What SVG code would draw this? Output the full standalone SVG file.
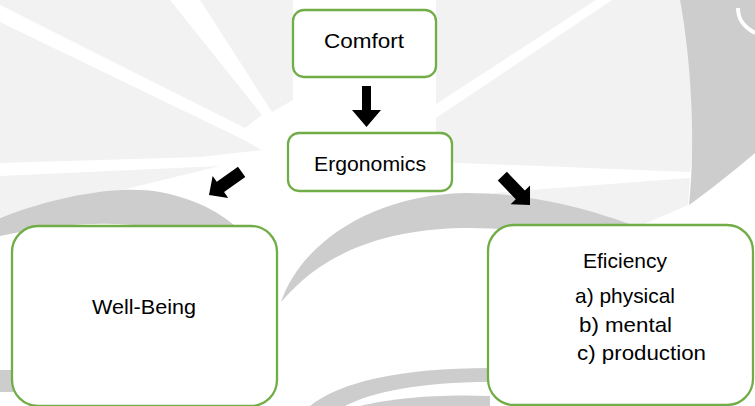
<svg xmlns="http://www.w3.org/2000/svg" width="755" height="406" viewBox="0 0 755 406">
  <style>
    .box { fill: #ffffff; stroke: #70AD47; stroke-width: 2.3; }
    .lbl { font-family: "Liberation Sans", Arial, sans-serif; font-size: 21px; fill: #000000; }
    .wm-light { fill: #f2f2f2; }
    .wm-dark { fill: #cdcdcd; }
    .arrow { fill: #000000; }
  </style>
  <defs>
    <path id="arrowV" d="M-4.5,-41 L4.5,-41 L4.5,-17 L14.5,-17 L0,0 L-14.5,-17 L-4.5,-17 Z"/>
    <path id="arrowD" d="M-6.3,-40 L6.3,-40 L6.3,-14 L13.5,-14 L0,0 L-13.5,-14 L-6.3,-14 Z"/>
  </defs>
  <rect x="0" y="0" width="755" height="406" fill="#ffffff"/>

  <!-- watermark background -->
  <g id="watermark">
    <polygon class="wm-light" points="0,22 0,163 200,157 262,150 240,138"/>
    <polygon class="wm-light" points="0,0 0,5 245,128 262,115 170,0"/>
    <polygon class="wm-light" points="200,0 293,0 293,100 272,112"/>
    <polygon class="wm-light" points="0,176 220,166 60,205 0,217"/>
    <polygon class="wm-light" points="436,0 596,0 436,104"/>
    <polygon class="wm-light" points="612,0 680,0 690,60 694,140 690,172 436,162 436,118"/>
    <polygon class="wm-light" points="492,193 690,178 688,205 640,226 560,212"/>
    <path class="wm-dark" d="M680,0 C691,60 696,140 689,205 C710,190 735,170 755,153 L755,0 Z"/>
    <path d="M738,8 C738,18 742,26 755,33" fill="none" stroke="#ffffff" stroke-width="4"/>
    <path class="wm-dark" d="M0,218 C60,195 120,185 160,192 C200,200 225,215 245,235 L200,240 C150,220 80,218 0,236 Z"/>
    <path class="wm-dark" d="M281,302 C300,245 370,195 465,193 C540,193 600,212 660,235 L600,240 C560,232 520,229 470,228 C400,228 330,245 283,300 Z"/>
    <path class="wm-dark" d="M310,406 C340,382 400,368 490,368 L490,382 C420,382 372,392 345,406 Z"/>
    <path class="wm-dark" d="M360,406 C392,398 440,394 490,396 L490,406 Z"/>
    <rect class="wm-dark" x="0" y="370" width="14" height="22"/>
  </g>

  <!-- connectors -->
  <g id="connectors">
    <use href="#arrowV" class="arrow" transform="translate(366.5,127)"/>
    <use href="#arrowD" class="arrow" transform="translate(209,195) rotate(54.7)"/>
    <use href="#arrowD" class="arrow" transform="translate(530,205) rotate(-43.8)"/>
  </g>

  <g id="node-comfort">
    <rect class="box" x="293" y="10" width="143" height="67" rx="11"/>
    <text class="lbl" x="324" y="48" textLength="80" lengthAdjust="spacingAndGlyphs">Comfort</text>
  </g>

  <g id="node-ergonomics">
    <rect class="box" x="288" y="133" width="164" height="58" rx="11"/>
    <text class="lbl" x="314" y="171" textLength="112" lengthAdjust="spacingAndGlyphs">Ergonomics</text>
  </g>

  <g id="node-wellbeing">
    <rect class="box" x="12" y="226" width="265" height="180" rx="26"/>
    <text class="lbl" x="92" y="314" textLength="104" lengthAdjust="spacingAndGlyphs">Well-Being</text>
  </g>

  <g id="node-efficiency">
    <rect class="box" x="488" y="225" width="265" height="180" rx="26"/>
    <text class="lbl" x="583" y="268" textLength="84" lengthAdjust="spacingAndGlyphs">Eficiency</text>
    <text class="lbl" x="575" y="303" textLength="100" lengthAdjust="spacingAndGlyphs">a) physical</text>
    <text class="lbl" x="579" y="332" textLength="93" lengthAdjust="spacingAndGlyphs">b) mental</text>
    <text class="lbl" x="577" y="360" textLength="129" lengthAdjust="spacingAndGlyphs">c) production</text>
  </g>
</svg>
